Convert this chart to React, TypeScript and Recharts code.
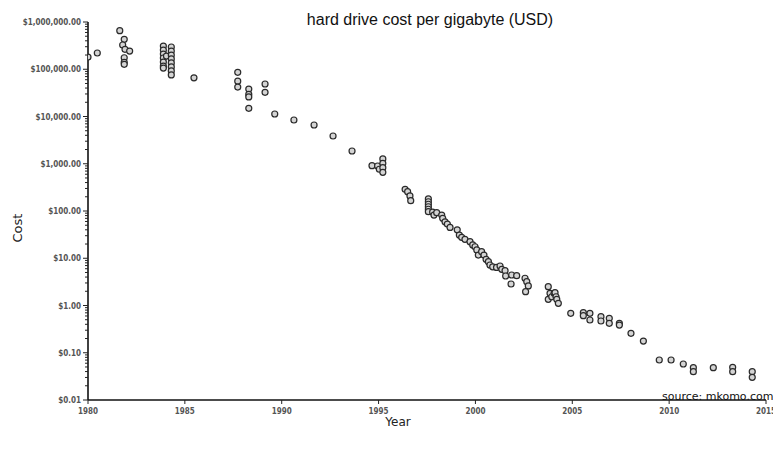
import React from "react";
import { ScatterChart, Scatter, XAxis, YAxis } from "recharts";

// [year, cost per GB in USD]
const points1980s: [number, number][] = [
  [1980.0, 181000], [1980.48, 221000],
  [1981.64, 655000], [1981.87, 430000], [1981.79, 326000], [1981.91, 264000],
  [1982.15, 243000], [1981.87, 175000], [1981.87, 140000], [1981.87, 127000],
  [1983.89, 310000], [1983.89, 255000], [1983.89, 210000], [1983.89, 173000],
  [1983.89, 142000], [1983.89, 117000], [1983.89, 106000], [1984.05, 190000],
  [1984.3, 296000], [1984.3, 243000], [1984.3, 200000], [1984.3, 165000],
  [1984.3, 136000], [1984.3, 112000], [1984.3, 92000], [1984.3, 76000],
  [1985.47, 66000],
  [1987.73, 86000], [1987.73, 56000], [1987.73, 42000],
  [1988.3, 38000], [1988.3, 29500], [1988.3, 26000], [1988.3, 14900],
  [1989.14, 48700], [1989.14, 32500], [1989.64, 11300],
];

const points1990s: [number, number][] = [
  [1990.63, 8430], [1991.67, 6610], [1992.65, 3870], [1993.63, 1860],
  [1994.66, 910], [1994.95, 896], [1995.04, 764], [1995.22, 1262],
  [1995.22, 1023], [1995.22, 825], [1995.22, 659],
  [1996.37, 288], [1996.5, 256], [1996.62, 208], [1996.66, 165],
  [1997.57, 180], [1997.57, 157], [1997.57, 139], [1997.57, 123],
  [1997.57, 109], [1997.57, 97], [1997.79, 95], [1997.86, 82],
  [1998.0, 92], [1998.26, 82], [1998.31, 70], [1998.43, 59],
  [1998.55, 53], [1998.69, 45], [1999.06, 40], [1999.17, 31],
  [1999.29, 27.7], [1999.46, 25.2], [1999.72, 22.4], [1999.86, 19.1],
  [1999.98, 17.5],
];

const points2000s: [number, number][] = [
  [2000.07, 15.0], [2000.15, 11.7], [2000.32, 13.8], [2000.44, 11.7],
  [2000.55, 9.5], [2000.67, 8.45], [2000.75, 7.2], [2000.89, 6.6],
  [2001.09, 6.4], [2001.27, 6.85], [2001.36, 5.83], [2001.53, 5.45],
  [2001.56, 4.21], [2001.87, 4.42], [2002.13, 4.27], [2001.84, 2.85],
  [2002.56, 3.77], [2002.65, 3.19], [2002.73, 2.59], [2002.59, 1.96],
  [2003.76, 2.5], [2003.76, 1.35], [2003.85, 1.81], [2003.94, 1.53],
  [2004.06, 1.81], [2004.11, 1.87], [2004.16, 1.53], [2004.2, 1.35],
  [2004.28, 1.11],
  [2004.92, 0.684], [2005.57, 0.705], [2005.57, 0.608], [2005.91, 0.684],
  [2005.91, 0.493], [2006.48, 0.58], [2006.48, 0.47], [2006.91, 0.536],
  [2006.91, 0.42], [2007.43, 0.42], [2007.43, 0.386], [2008.03, 0.258],
  [2008.67, 0.177],
];

const points2010s: [number, number][] = [
  [2009.49, 0.0703], [2010.1, 0.0703], [2010.73, 0.0578],
  [2011.25, 0.0483], [2011.25, 0.0397], [2012.28, 0.0483],
  [2013.28, 0.0492], [2013.28, 0.0397], [2014.29, 0.0397], [2014.29, 0.0302],
];

const yearTicks = [1980, 1985, 1990, 1995, 2000, 2005, 2010, 2015];
const majorCostTicks = [0.01, 0.1, 1, 10, 100, 1000, 10000, 100000, 1000000];
const minorMultipliers = [2, 3, 4, 5, 6, 7, 8, 9];

const data = [...points1980s, ...points1990s, ...points2000s, ...points2010s].map(
  ([year, cost]) => ({ year, cost })
);

const costTicks: number[] = [];
majorCostTicks.forEach((t, i) => {
  costTicks.push(t);
  if (i < majorCostTicks.length - 1) {
    minorMultipliers.forEach((m) => costTicks.push(Number((t * m).toPrecision(3))));
  }
});

const isMajor = (v: number) =>
  majorCostTicks.some((t) => Math.abs(v - t) / t < 1e-6);

const fmtCost = (v: number) =>
  "$" +
  v.toLocaleString("en-US", { minimumFractionDigits: 2, maximumFractionDigits: 2 });

const YTick = (props: any) => {
  const { x, y, payload } = props;
  const major = isMajor(payload.value);
  return (
    <g>
      <line x1={x - (major ? 5 : 3)} x2={x} y1={y} y2={y} stroke="#222" strokeWidth={1} />
      {major && (
        <text
          x={x - 7}
          y={y}
          dy={3}
          textAnchor="end"
          fontSize={8}
          fontWeight="bold"
          fontFamily="'DejaVu Sans Condensed', 'DejaVu Sans', sans-serif"
          fill="#555"
        >
          {fmtCost(payload.value)}
        </text>
      )}
    </g>
  );
};

const XTick = (props: any) => {
  const { x, y, payload } = props;
  return (
    <g>
      <line x1={x} x2={x} y1={y} y2={y + 4} stroke="#222" strokeWidth={1} />
      <text
        x={x}
        y={y + 14}
        textAnchor="middle"
        fontSize={8}
        fontWeight="bold"
        fontFamily="'DejaVu Sans Condensed', 'DejaVu Sans', sans-serif"
        fill="#555"
      >
        {payload.value}
      </text>
    </g>
  );
};

const Dot = (props: any) => {
  const { cx, cy } = props;
  return <circle cx={cx} cy={cy} r={3} fill="#d4d4d4" stroke="#2a2a2a" strokeWidth={1.2} />;
};

export default function App() {
  return (
    <div style={{ position: "absolute", left: 0, top: 0, width: 773, height: 457, background: "#fff" }}>
      <ScatterChart width={773} height={457} margin={{ top: 22, right: 7, bottom: 0, left: 0 }}>
        <XAxis
          type="number"
          dataKey="year"
          domain={[1980, 2015]}
          ticks={yearTicks}
          interval={0}
          allowDataOverflow
          height={57}
          tickSize={0}
          tickMargin={0}
          tick={<XTick />}
          axisLine={{ stroke: "#111", strokeWidth: 1.6 }}
        />
        <YAxis
          type="number"
          dataKey="cost"
          scale="log"
          domain={[0.01, 1000000]}
          ticks={costTicks}
          interval={0}
          allowDataOverflow
          width={88}
          tickSize={0}
          tickMargin={0}
          tick={<YTick />}
          axisLine={{ stroke: "#111", strokeWidth: 1.6 }}
        />
        <Scatter data={data} shape={<Dot />} isAnimationActive={false} />
      </ScatterChart>
      <div
        style={{
          position: "absolute",
          left: 0,
          width: 860,
          top: 11,
          textAlign: "center",
          fontFamily: "'Liberation Sans', Arial, sans-serif",
          fontSize: 16,
          color: "#111",
          lineHeight: "18px",
        }}
      >
        hard drive cost per gigabyte (USD)
      </div>
      <div
        style={{
          position: "absolute",
          left: 662,
          top: 390,
          whiteSpace: "nowrap",
          fontFamily: "'DejaVu Sans', sans-serif",
          fontSize: 11,
          color: "#111",
          lineHeight: "14px",
        }}
      >
        source: mkomo.com
      </div>
      <div
        style={{
          position: "absolute",
          left: 372,
          width: 52,
          top: 414,
          textAlign: "center",
          fontFamily: "'DejaVu Sans', sans-serif",
          fontSize: 12,
          color: "#222",
          lineHeight: "16px",
        }}
      >
        Year
      </div>
      <div
        style={{
          position: "absolute",
          left: -8,
          width: 52,
          top: 220,
          textAlign: "center",
          transform: "rotate(-90deg)",
          fontFamily: "'DejaVu Sans', sans-serif",
          fontSize: 13,
          color: "#222",
          lineHeight: "16px",
        }}
      >
        Cost
      </div>
    </div>
  );
}
